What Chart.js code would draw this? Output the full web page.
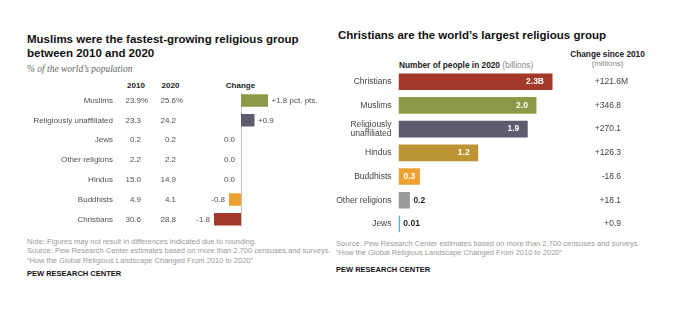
<!DOCTYPE html>
<html>
<head>
<meta charset="utf-8">
<script src="https://cdn.jsdelivr.net/npm/chart.js@4/dist/chart.umd.min.js"></script>
<style>
  html,body{margin:0;padding:0;background:#fff;}
  body{width:680px;height:330px;position:relative;overflow:hidden;font-family:"Liberation Sans",Arial,sans-serif;}
  .t{position:absolute;white-space:nowrap;}
  .title{font-weight:bold;font-size:11.5px;line-height:14.2px;color:#111;}
  .sub{font-family:"Liberation Serif",serif;font-style:italic;font-size:9.5px;line-height:11px;color:#666;}
  .hdr{font-weight:bold;font-size:8px;line-height:10px;color:#222;text-align:center;}
  .note{font-size:7.5px;line-height:9.6px;color:#9a9a9a;}
  .pew{font-weight:bold;font-size:7.5px;line-height:9px;color:#111;}
  canvas{position:absolute;top:0;}
</style>
</head>
<body>
<div class="t title" style="left:27px;top:32.2px;">Muslims were the fastest-growing religious group<br>between 2010 and 2020</div>
<div class="t sub" style="left:27px;top:64.3px;">% of the world’s population</div>
<div class="t hdr" style="left:116px;top:81.2px;width:40px;">2010</div>
<div class="t hdr" style="left:150.5px;top:81.2px;width:40px;">2020</div>
<div class="t hdr" style="left:215.5px;top:81.2px;width:50px;">Change</div>
<div class="t note" style="left:27px;top:236.8px;">Note: Figures may not result in differences indicated due to rounding.<br>Source: Pew Research Center estimates based on more than 2,700 censuses and surveys.<br>“How the Global Religious Landscape Changed From 2010 to 2020”</div>
<div class="t pew" style="left:27px;top:268.9px;">PEW RESEARCH CENTER</div>

<div class="t title" style="left:338px;top:27.9px;">Christians are the world’s largest religious group</div>
<div class="t hdr" style="left:557.5px;top:49.4px;width:100px;font-size:8.3px;">Change since 2010</div>
<div class="t hdr" style="left:557.5px;top:58.7px;width:100px;font-weight:normal;color:#888;">(millions)</div>
<div class="t hdr" style="left:399px;top:59.6px;text-align:left;font-size:8.3px;">Number of people in 2020 <span style="font-weight:normal;color:#888;">(billions)</span></div>
<div class="t note" style="left:336px;top:238.8px;">Source: Pew Research Center estimates based on more than 2,700 censuses and surveys.<br>“How the Global Religious Landscape Changed From 2010 to 2020”</div>
<div class="t pew" style="left:336px;top:264.5px;">PEW RESEARCH CENTER</div>

<canvas id="leftChart" width="320" height="330" style="left:0;width:320px;height:330px;"></canvas>
<canvas id="rightChart" width="360" height="330" style="left:320px;width:360px;height:330px;"></canvas>

<script>
// ---- Left panel data: share of world population (%) ----
const leftCategories = ['Muslims','Religiously unaffiliated','Jews','Other religions','Hindus','Buddhists','Christians'];
const share2010 = [23.9, 23.3, 0.2, 2.2, 15.0, 4.9, 30.6];
const share2020 = [25.6, 24.2, 0.2, 2.2, 14.9, 4.1, 28.8];
const shareChange = [1.8, 0.9, 0.0, 0.0, 0.0, -0.8, -1.8];
const leftColors = ['#8b9a47','#5f5b6e','#5aaed0','#9a9a9a','#bc9434','#eba233','#a3392a'];

// ---- Right panel data: number of people in 2020 (billions) ----
const rightCategories = ['Christians','Muslims',['Religiously','unaffiliated'],'Hindus','Buddhists','Other religions','Jews'];
const people2020 = [2.3, 2.06, 1.93, 1.19, 0.32, 0.17, 0.02];
const peopleLabels = ['2.3B','2.0','1.9','1.2','0.3','0.2','0.01'];
const changeSince2010 = [121.6, 346.8, 270.1, 126.3, -18.6, 18.1, 0.9];
const rightColors = ['#a3392a','#8b9a47','#5f5b6e','#bc9434','#eba233','#9a9a9a','#5aaed0'];

const FONT = '"Liberation Sans", Arial, sans-serif';

const leftRowsPlugin = {
  id: 'leftRows',
  beforeDatasetsDraw(chart){
    const {ctx, chartArea, scales:{x}} = chart;
    const x0 = Math.round(x.getPixelForValue(0)) + 0.5;
    ctx.save();
    ctx.strokeStyle = '#c4c4c4';
    ctx.lineWidth = 1;
    ctx.beginPath();
    ctx.moveTo(x0, chartArea.top + 2.5);
    ctx.lineTo(x0, chartArea.bottom - 2.5);
    ctx.stroke();
    ctx.restore();
  },
  afterDatasetsDraw(chart){
    const {ctx, chartArea, scales:{x,y}} = chart;
    ctx.save();
    ctx.textBaseline = 'middle';
    ctx.font = '8px ' + FONT;
    ctx.fillStyle = '#505050';
    const labelX = chartArea.left - 7;
    leftCategories.forEach((c,i)=>{
      const py = y.getPixelForValue(i);
      ctx.textAlign = 'right';
      ctx.fillText(c, labelX, py);
      ctx.fillText(share2010[i].toFixed(1), 141, py);
      ctx.fillText(share2020[i].toFixed(1), 176, py);
      if (i === 0){
        ctx.textAlign = 'left';
        ctx.fillText('%', 141, py);
        ctx.fillText('%', 176, py);
      }
      const v = shareChange[i];
      const xe = x.getPixelForValue(v);
      const txt = (v > 0 ? '+' : '') + v.toFixed(1) + (i === 0 ? ' pct. pts.' : '');
      if (v > 0){
        ctx.textAlign = 'left';
        ctx.fillText(txt, xe + 3.5, py);
      } else {
        ctx.textAlign = 'right';
        ctx.fillText(txt, xe - (v < 0 ? 4 : 6), py);
      }
    });
    ctx.restore();
  }
};

const rightRowsPlugin = {
  id: 'rightRows',
  afterDatasetsDraw(chart){
    const {ctx, chartArea, scales:{x,y}} = chart;
    const x0 = x.getPixelForValue(0);
    ctx.save();
    ctx.textBaseline = 'middle';
    rightCategories.forEach((c,i)=>{
      const py = y.getPixelForValue(i);
      ctx.font = '8.5px ' + FONT;
      ctx.fillStyle = '#444';
      ctx.textAlign = 'right';
      const lines = Array.isArray(c) ? c : [c];
      lines.forEach((l,k)=> ctx.fillText(l, chartArea.left - 7, py + (k - (lines.length-1)/2) * 9.8));
      const xe = x.getPixelForValue(people2020[i]);
      const w = xe - x0;
      ctx.font = 'bold 8.5px ' + FONT;
      if (w > 40){
        ctx.fillStyle = '#fff'; ctx.textAlign = 'right';
        ctx.fillText(peopleLabels[i], xe - 8.5, py);
      } else if (w > 18){
        ctx.fillStyle = '#fff'; ctx.textAlign = 'left';
        ctx.fillText(peopleLabels[i], x0 + 5, py);
      } else {
        ctx.fillStyle = '#1e1e1e'; ctx.textAlign = 'left';
        ctx.fillText(peopleLabels[i], xe + 3.5, py);
      }
      ctx.font = '8.5px ' + FONT;
      ctx.fillStyle = '#444';
      ctx.textAlign = 'right';
      const v = changeSince2010[i];
      ctx.fillText((v > 0 ? '+' : '') + v.toFixed(1), 301, py);
      if (i === 0){ ctx.textAlign = 'left'; ctx.fillText('M', 301, py); }
    });
    ctx.restore();
  }
};

new Chart(document.getElementById('leftChart'), {
  type: 'bar',
  data: {
    labels: leftCategories,
    datasets: [{ data: shareChange, backgroundColor: leftColors, borderWidth: 0, barPercentage: 0.63, categoryPercentage: 1 }]
  },
  options: {
    indexAxis: 'y',
    responsive: false,
    animation: false,
    devicePixelRatio: 1,
    layout: { padding: { left: 120, right: 0, top: 90.6, bottom: 100.8 } },
    scales: {
      x: { display: false, min: -8.067, max: 5.267 },
      y: { display: false }
    },
    plugins: { legend: { display: false }, tooltip: { enabled: false } }
  },
  plugins: [leftRowsPlugin]
});

new Chart(document.getElementById('rightChart'), {
  type: 'bar',
  data: {
    labels: rightCategories,
    datasets: [{ data: people2020, backgroundColor: rightColors, borderWidth: 0, barPercentage: 0.70, categoryPercentage: 1, minBarLength: 1.5 }]
  },
  options: {
    indexAxis: 'y',
    responsive: false,
    animation: false,
    devicePixelRatio: 1,
    layout: { padding: { left: 78.5, right: 114.1, top: 69.84, bottom: 94.14 } },
    scales: {
      x: { display: false, min: 0, max: 2.5 },
      y: { display: false }
    },
    plugins: { legend: { display: false }, tooltip: { enabled: false } }
  },
  plugins: [rightRowsPlugin]
});
</script>
</body>
</html>
